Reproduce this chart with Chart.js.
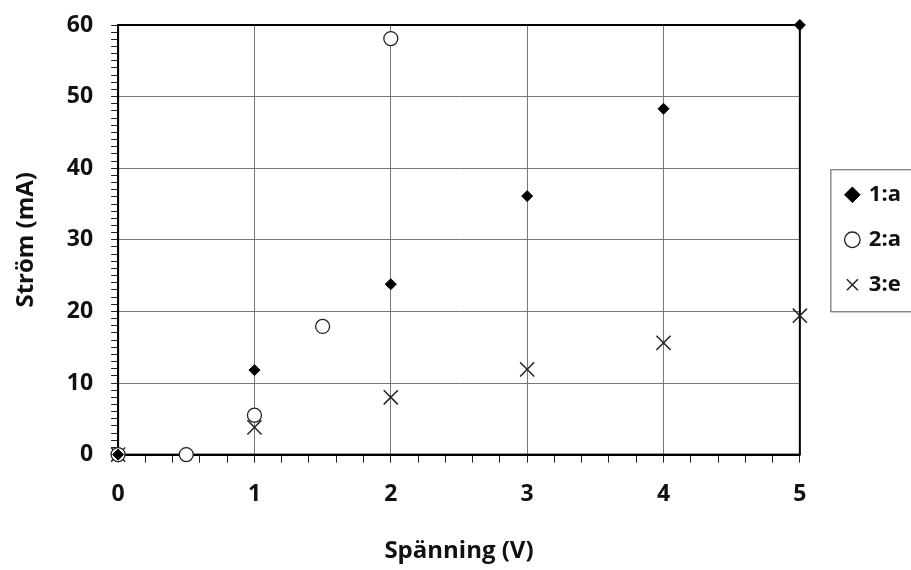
<!DOCTYPE html>
<html>
<head>
<meta charset="utf-8">
<script src="https://cdn.jsdelivr.net/npm/chart.js@4.4.0/dist/chart.umd.min.js"></script>
<style>
  html, body { margin: 0; padding: 0; background: #fff; overflow: hidden; }
  #wrap { width: 911px; height: 570px; }
</style>
</head>
<body>
<div id="wrap"><canvas id="graf"></canvas></div>
<script>
// mätvärden
const spanning1 = [0, 1, 2, 3, 4, 5];
const strom1 = [0, 11.8, 23.8, 36.1, 48.3, 60];
const spanning2 = [0, 0.5, 1, 1.5, 2];
const strom2 = [0, 0, 5.5, 17.9, 58.1];
const spanning3 = [0, 1, 2, 3, 4, 5];
const strom3 = [0, 3.8, 8.0, 11.9, 15.6, 19.4];
const serienamn = ['1:a', '2:a', '3:e'];
const xMin = 0, xMax = 5, xSteg = 0.2;   // etikett vid heltal
const yMin = 0, yMax = 60, ySteg = 1;    // etikett vid var 10:e

const punkter = (xs, ys) => xs.map((x, i) => ({ x: x, y: ys[i] }));
const arHel = (v, d) => Math.abs(v / d - Math.round(v / d)) < 1e-6;

const familj = '"Open Sans", sans-serif';
const tickFont = { family: familj, weight: 'bold', size: 23 };
const titelFont = { family: familj, weight: 'bold', size: 24 };

// ram runt ritytan
const ram = {
  id: 'ram',
  beforeDatasetsDraw(chart) {
    const a = chart.chartArea;
    const ctx = chart.ctx;
    ctx.save();
    ctx.strokeStyle = '#000';
    ctx.lineWidth = 2;
    ctx.strokeRect(a.left, a.top, a.right - a.left, a.bottom - a.top);
    ctx.restore();
  }
};

// ruta runt förklaringen
const legendRuta = {
  id: 'legendRuta',
  afterDraw(chart) {
    const boxar = chart.legend.legendHitBoxes;
    if (!boxar || !boxar.length) return;
    let l = Infinity, t = Infinity, r = -Infinity, b = -Infinity;
    boxar.forEach(h => {
      l = Math.min(l, h.left); t = Math.min(t, h.top);
      r = Math.max(r, h.left + h.width); b = Math.max(b, h.top + h.height);
    });
    const ctx = chart.ctx;
    ctx.save();
    ctx.strokeStyle = '#555';
    ctx.lineWidth = 1;
    ctx.strokeRect(l - 16, t - 14, r - l + 60, b - t + 30);
    ctx.restore();
  }
};

new Chart(document.getElementById('graf'), {
  type: 'scatter',
  data: {
    datasets: [
      {
        label: serienamn[0],
        data: punkter(spanning1, strom1),
        pointStyle: 'rectRot',
        pointRadius: 5.5,
        backgroundColor: '#000',
        borderColor: '#000',
        borderWidth: 1
      },
      {
        label: serienamn[1],
        data: punkter(spanning2, strom2),
        pointStyle: 'circle',
        pointRadius: 7,
        backgroundColor: '#fff',
        borderColor: '#222',
        borderWidth: 1.3
      },
      {
        label: serienamn[2],
        data: punkter(spanning3, strom3),
        pointStyle: 'crossRot',
        pointRadius: 10,
        backgroundColor: '#222',
        borderColor: '#222',
        borderWidth: 1.5
      }
    ]
  },
  options: {
    responsive: true,
    maintainAspectRatio: false,
    animation: false,
    clip: false,
    layout: { padding: { top: 3, right: 0, bottom: 0, left: 8 } },
    plugins: {
      tooltip: { enabled: false },
      legend: {
        position: 'right',
        fullSize: false,
        labels: {
          usePointStyle: true,
          boxWidth: 11,
          boxHeight: 11,
          padding: 23,
          color: '#111',
          font: { family: familj, weight: 'bold', size: 22 }
        }
      }
    },
    scales: {
      x: {
        type: 'linear',
        min: xMin,
        max: xMax,
        border: { color: '#000', width: 2 },
        grid: {
          color: c => arHel(c.tick.value, 1) ? '#777' : 'rgba(0,0,0,0)',
          tickColor: '#222',
          tickLength: 8,
          lineWidth: 1
        },
        ticks: {
          stepSize: xSteg,
          autoSkip: false,
          maxRotation: 0,
          padding: 18,
          color: '#111',
          font: tickFont,
          callback: v => arHel(v, 1) ? String(Math.round(v)) : ''
        },
        title: {
          display: true,
          text: 'Spänning (V)',
          color: '#111',
          font: titelFont,
          padding: { top: 11 }
        }
      },
      y: {
        type: 'linear',
        min: yMin,
        max: yMax,
        border: { color: '#000', width: 2 },
        grid: {
          color: c => arHel(c.tick.value, 10) ? '#777' : 'rgba(0,0,0,0)',
          tickColor: '#222',
          tickLength: 7,
          lineWidth: 1
        },
        ticks: {
          stepSize: ySteg,
          autoSkip: false,
          padding: 18,
          color: '#111',
          font: tickFont,
          callback: v => arHel(v, 10) ? String(Math.round(v)) : ''
        },
        // tickpadding räknas annars in i luften ovanför "60"
        afterFit: s => { s.paddingTop = 25; },
        title: {
          display: true,
          text: 'Ström (mA)',
          color: '#111',
          font: titelFont,
          padding: { bottom: 8 }
        }
      },
      // tom axel som ger luft mellan ritytan och förklaringen
      luft: {
        type: 'linear',
        position: 'right',
        display: true,
        grid: { display: false, drawOnChartArea: false },
        border: { display: false },
        ticks: { display: false },
        afterFit: s => { s.width = 24; }
      }
    }
  },
  plugins: [ram, legendRuta]
});
</script>
</body>
</html>
